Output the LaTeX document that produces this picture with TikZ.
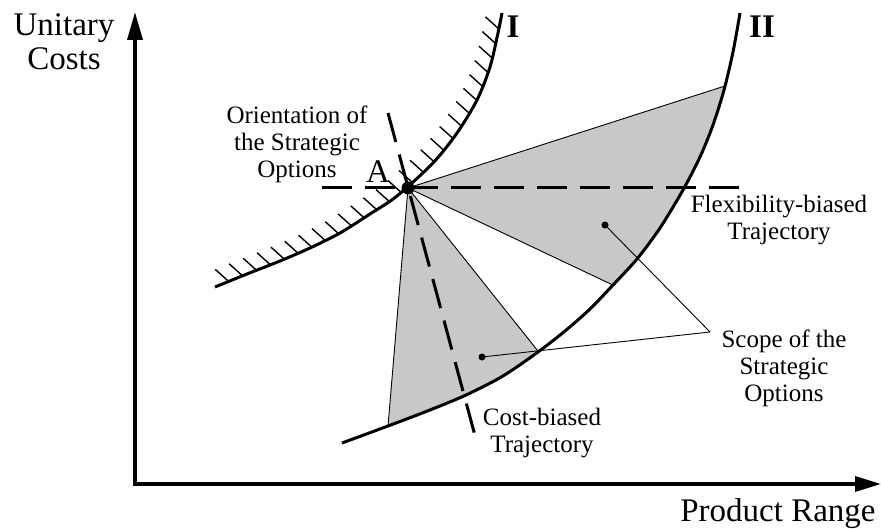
\documentclass[tikz,border=0pt]{standalone}
\usepackage{fontspec}
\setmainfont{Liberation Serif}
\usetikzlibrary{arrows.meta,decorations.markings}
\definecolor{wedgefill}{RGB}{200,200,200}

\begin{document}
\begin{tikzpicture}[
  x=1pt, y=-1pt,
  axisline/.style={line width=3.5pt,
    {Triangle[length=28pt,width=15pt]}-{Triangle[length=26pt,width=15pt]}},
  envelope/.style={line width=3pt},
  guide/.style={line width=3pt, dash pattern=on 30pt off 13pt},
  leader/.style={line width=0.9pt},
  wedge/.style={fill=wedgefill, draw=black, line width=0.9pt},
  hatch/.style={line width=1.4pt},
  bigdot/.style={circle, fill=black, inner sep=0pt, minimum size=13pt},
  smalldot/.style={circle, fill=black, inner sep=0pt, minimum size=7pt},
  big/.style={font=\fontsize{33}{34}\selectfont, align=center, inner sep=0pt},
  small/.style={font=\fontsize{25}{27}\selectfont, align=center, inner sep=0pt},
]
\useasboundingbox (0,0) rectangle (881,529);

% ---- Axes ----
\coordinate (O)    at (135,484);
\coordinate (ytop) at (135,12);
\coordinate (xend) at (881,484);
\draw[axisline] (ytop) -- (O) -- (xend);

\node[big] (ylabel) at (64,42)  {Unitary\\Costs};
\node[big] (xlabel) at (778,514) {Product Range};

% ---- Point A ----
\coordinate (A0) at (408,188);

% ---- Scope of the options (clipped by curve II) ----
\begin{scope}
  \clip plot[smooth] coordinates {(342,443) (388,426) (430,410) (466,395)
      (503,376) (538,352) (565,331) (590,309) (613,285) (637,259) (660,228)
      (683,190) (700,157) (713,125) (724,90) (733,52) (740,13)}
    -- (740,0) -- (0,0) -- (0,443) -- cycle;
  \filldraw[wedge] (A0) -- (787,66) -- (900,200) -- (674,314) -- cycle;
  \filldraw[wedge] (A0) -- (384,474) -- (500,520) -- (577,400) -- cycle;
\end{scope}

% ---- Curves I and II ----
\draw[envelope, postaction={decorate}, decoration={markings,
    mark=between positions 0.035 and 0.995 step 15pt with
    {\pgftransformresetnontranslations \draw[hatch] (0,0) -- (138:18pt);}}]
  plot[smooth] coordinates {(215,287) (247,274) (280,261) (310,248) (340,233)
      (370,214) (397,196) (433,163) (457,133) (477,100) (490,67) (498,33)
      (502,13)};
\draw[envelope]
  plot[smooth] coordinates {(342,443) (388,426) (430,410) (466,395)
      (503,376) (538,352) (565,331) (590,309) (613,285) (637,259) (660,228)
      (683,190) (700,157) (713,125) (724,90) (733,52) (740,13)};

\node[big, font=\fontsize{33}{34}\selectfont\bfseries] (labI)  at (513,27) {I};
\node[big, font=\fontsize{33}{34}\selectfont\bfseries] (labII) at (762,27) {II};

% ---- Trajectories ----
\coordinate (hL) at (322,188);
\coordinate (hR) at (742,188);
\coordinate (oT) at (388,113);
\coordinate (oB) at (477,443);
\draw[guide] (hL) -- (hR);
\draw[guide] (oT) -- (oB);

\node[bigdot] (A) at (A0) {};
\node[big] (Alab) at (378,172) {A};

% ---- Callouts ----
\node[smalldot] (flexdot) at (605,225) {};
\node[smalldot] (costdot) at (482,357) {};
\coordinate (scope) at (710,332);
\draw[leader] (flexdot.center) -- (scope);
\draw[leader] (costdot.center) -- (scope);

\node[small] (orient)   at (297,144) {Orientation of\\the Strategic\\Options};
\node[small] (flexlab)  at (779,220) {Flexibility-biased\\Trajectory};
\node[small] (costlab)  at (542,433) {Cost-biased\\Trajectory};
\node[small] (scopelab) at (784,368) {Scope of the\\Strategic\\Options};

\end{tikzpicture}
\end{document}
